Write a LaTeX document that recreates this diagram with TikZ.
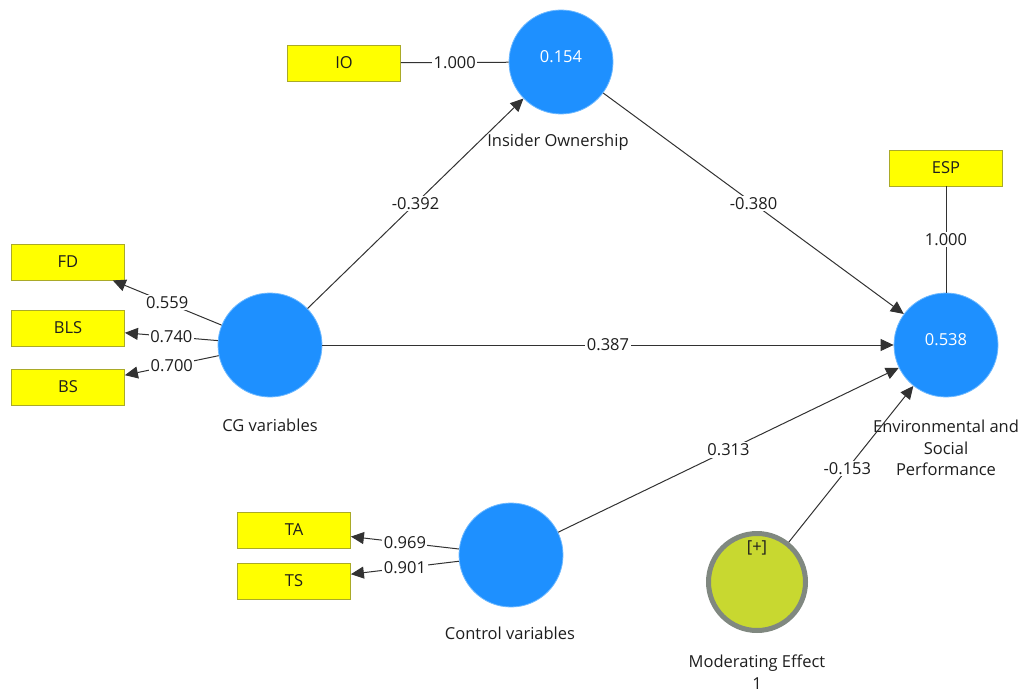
\documentclass[tikz,border=0pt]{standalone}
\usepackage{fontspec}
\setmainfont{Open Sans}
\usetikzlibrary{arrows.meta}
\definecolor{lvblue}{RGB}{30,144,255}
\definecolor{lvedge}{RGB}{110,185,255}
\definecolor{indyellow}{RGB}{255,255,0}
\definecolor{indedge}{RGB}{170,170,40}
\definecolor{modfill}{RGB}{200,216,48}
\definecolor{modring}{RGB}{128,136,128}
\definecolor{linegray}{RGB}{50,50,50}
\definecolor{txt}{RGB}{30,30,30}
\newcommand{\lblfont}{\fontsize{16.5}{21.5}\selectfont}
\tikzset{
  latent/.style={circle, fill=lvblue, draw=lvedge, line width=0.8pt,
    minimum size=104pt, inner sep=0pt},
  moderator/.style={circle, fill=modfill, draw=modring, line width=5pt,
    minimum size=97pt, inner sep=0pt},
  indicator/.style={rectangle, fill=indyellow, draw=indedge, line width=0.8pt,
    minimum width=113pt, minimum height=36pt, inner sep=0pt, text=txt, font=\lblfont},
  value/.style={text=white, font=\lblfont, inner sep=0pt},
  caption/.style={text=txt, font=\lblfont, align=center, inner sep=0pt},
  weight/.style={fill=white, inner sep=1.5pt, text=txt, font=\lblfont, pos=0.5},
  link/.style={draw=linegray, line width=1pt},
  arrowlink/.style={link, -{Triangle[length=13pt,width=12pt]}},
}
\begin{document}
\begin{tikzpicture}[x=1pt,y=-1pt]
\useasboundingbox (0,0) rectangle (1024,692);

% constructs
\node[latent] (ioc) at (561,62) {};
\node[latent] (cg) at (270,345) {};
\node[latent] (esp) at (946,345) {};
\node[latent] (ctrl) at (511,555) {};
\node[moderator] (mod) at (757,582) {};

% R-squared values
\node[value] (iov) at (561,57) {0.154};
\node[value] (espv) at (946,340) {0.538};
\node[caption] (modtag) at (757,548) {[+]};

% construct names
\node[caption] (iocap) at (558,142) {Insider Ownership};
\node[caption] (cgcap) at (270,425) {CG variables};
\node[caption] (espcap) at (946,448) {Environmental and\\Social\\Performance};
\node[caption] (ctrlcap) at (510,633) {Control variables};
\node[caption] (modcap) at (757,672) {Moderating Effect\\1};

% indicators
\node[indicator] (io) at (344,63) {IO};
\node[indicator] (fd) at (68,262) {FD};
\node[indicator] (bls) at (68,328) {BLS};
\node[indicator] (bs) at (68,387) {BS};
\node[indicator] (espi) at (946,168) {ESP};
\node[indicator] (ta) at (294,530) {TA};
\node[indicator] (ts) at (294,581) {TS};

% measurement model
\draw[link] (io) -- node[weight] {1.000} (ioc);
\draw[link] (espi) -- node[weight] {1.000} (esp);
\draw[arrowlink] (cg) -- node[weight] {0.559} (fd);
\draw[arrowlink] (cg) -- node[weight] {0.740} (bls);
\draw[arrowlink] (cg) -- node[weight] {0.700} (bs);
\draw[arrowlink] (ctrl) -- node[weight] {0.969} (ta);
\draw[arrowlink] (ctrl) -- node[weight] {0.901} (ts);

% structural model
\draw[arrowlink] (cg) -- node[weight] {-0.392} (ioc);
\draw[arrowlink] (ioc) -- node[weight] {-0.380} (esp);
\draw[arrowlink] (cg) -- node[weight] {0.387} (esp);
\draw[arrowlink] (ctrl) -- node[weight] {0.313} (esp);
\draw[arrowlink] (mod) -- node[weight, pos=0.47] {-0.153} (esp);
\end{tikzpicture}
\end{document}
